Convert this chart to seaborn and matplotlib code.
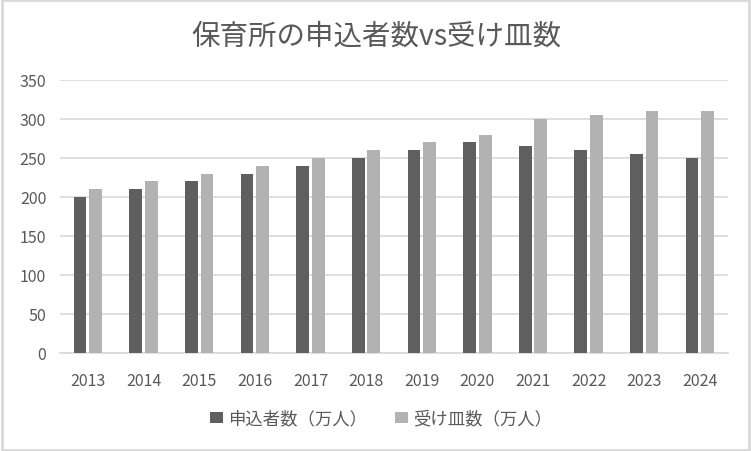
import pandas as pd
import matplotlib.pyplot as plt
import seaborn as sns
from matplotlib.patches import Rectangle

# data
years = ['2013', '2014', '2015', '2016', '2017', '2018', '2019', '2020', '2021', '2022', '2023', '2024']
applicants = [200, 210, 220, 230, 240, 250, 260, 270, 265, 260, 255, 250]
capacity = [210, 220, 230, 240, 250, 260, 270, 280, 300, 305, 310, 310]
series_names = ['申込者数（万人）', '受け皿数（万人）']

df = pd.DataFrame({'year': years * 2,
                   'value': applicants + capacity,
                   'series': [series_names[0]] * len(years) + [series_names[1]] * len(years)})

sns.set_theme(style='white')
plt.rcParams['font.family'] = ['Noto Sans CJK JP', 'DejaVu Sans']

fig = plt.figure(figsize=(7.51, 4.52), dpi=100)
ax = fig.add_axes([0.08, 0.217, 0.889, 0.604])

sns.barplot(data=df, x='year', y='value', hue='series',
            palette=['#5f5f5f', '#b2b2b2'], width=0.56, gap=0.18,
            saturation=1, linewidth=0, ax=ax, zorder=3)

ax.set_ylim(0, 350)
ax.set_yticks(range(0, 351, 50))
ax.grid(axis='y', color='#d9d9d9', linewidth=1.2, zorder=0)
ax.set_xlabel('')
ax.set_ylabel('')
for s in ['top', 'right', 'left']:
    ax.spines[s].set_visible(False)
ax.spines['bottom'].set_color('#d9d9d9')
ax.spines['bottom'].set_linewidth(1.2)
ax.tick_params(axis='both', colors='#595959', labelsize=11.5, length=0)
ax.tick_params(axis='x', pad=14)
ax.tick_params(axis='y', pad=10)

fig.suptitle('保育所の申込者数vs受け皿数', fontsize=20.5, color='#595959', x=0.501, y=0.918, va='center')

handles, labels = ax.get_legend_handles_labels()
ax.get_legend().remove()
fig.legend(handles, labels, loc='center', bbox_to_anchor=(0.507, 0.072),
           ncol=2, frameon=False, fontsize=12.5, labelcolor='#595959',
           handlelength=0.75, handleheight=0.6, handletextpad=0.3, columnspacing=1.6)

# light border around the chart area
fig.patches.append(Rectangle((0.002, 0.003), 0.996, 0.994, transform=fig.transFigure,
                             fill=False, edgecolor='#d9d9d9', linewidth=2))

fig.savefig('out.png', dpi=100)
